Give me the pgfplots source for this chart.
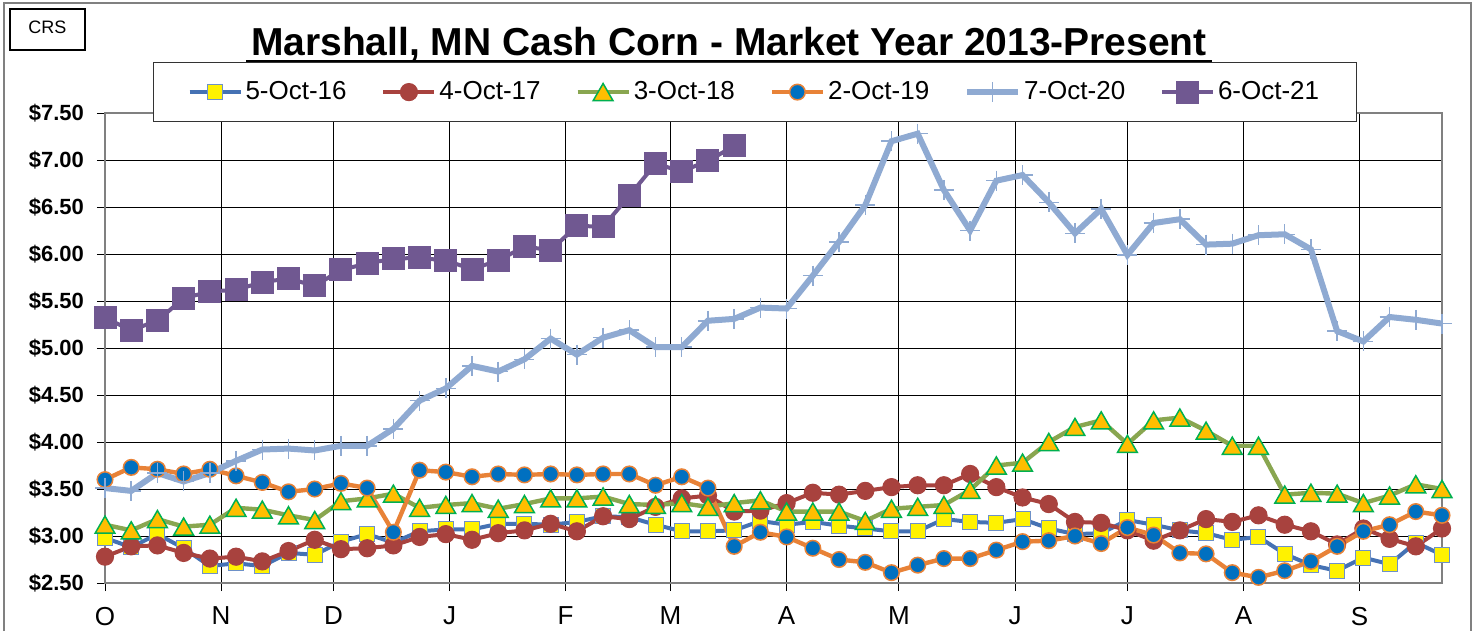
\documentclass[border=0pt]{standalone}
\usepackage{pgfplots}
\pgfplotsset{compat=1.18}
\usepackage{pgfplotstable}
\usepackage{fontspec}
\setmainfont{Liberation Sans}
\definecolor{c16}{RGB}{69,114,180}
\definecolor{c16m}{RGB}{110,145,200}
\definecolor{c17}{RGB}{168,66,62}
\definecolor{c18}{RGB}{137,166,80}
\definecolor{tri}{RGB}{255,190,0}
\definecolor{trig}{RGB}{0,176,80}
\definecolor{c19}{RGB}{232,130,55}
\definecolor{cblue}{RGB}{0,112,192}
\definecolor{c20}{RGB}{143,170,210}
\definecolor{c21}{RGB}{112,88,145}

\pgfplotstableread{
i s16 s17 s18 s19 s20
0 2.98 2.78 3.12 3.60 3.51
1 2.88 2.89 3.06 3.73 3.48
2 3.02 2.90 3.18 3.71 3.67
3 2.87 2.82 3.10 3.66 3.58
4 2.68 2.76 3.12 3.71 3.67
5 2.71 2.78 3.30 3.64 3.80
6 2.68 2.73 3.28 3.57 3.92
7 2.82 2.84 3.22 3.47 3.93
8 2.80 2.96 3.17 3.50 3.91
9 2.94 2.86 3.37 3.56 3.96
10 3.02 2.87 3.40 3.51 3.96
11 2.93 2.90 3.45 3.04 4.14
12 3.05 2.99 3.30 3.70 4.44
13 3.07 3.02 3.33 3.68 4.57
14 3.07 2.96 3.35 3.63 4.81
15 3.13 3.03 3.29 3.66 4.75
16 3.13 3.06 3.34 3.65 4.88
17 3.12 3.13 3.40 3.66 5.10
18 3.15 3.05 3.40 3.65 4.93
19 3.21 3.21 3.42 3.66 5.11
20 3.20 3.18 3.34 3.66 5.19
21 3.12 3.31 3.33 3.54 5.01
22 3.05 3.40 3.35 3.63 5.01
23 3.05 3.43 3.31 3.51 5.29
24 3.06 3.26 3.35 2.89 5.31
25 3.16 3.27 3.38 3.04 5.43
26 3.12 3.35 3.26 2.99 5.42
27 3.15 3.46 3.26 2.87 5.77
28 3.11 3.44 3.26 2.75 6.13
29 3.08 3.48 3.16 2.72 6.52
30 3.05 3.52 3.29 2.61 7.20
31 3.05 3.54 3.31 2.69 7.28
32 3.18 3.54 3.33 2.76 6.68
33 3.15 3.66 3.49 2.76 6.25
34 3.14 3.52 3.75 2.85 6.78
35 3.18 3.41 3.78 2.94 6.84
36 3.08 3.34 4.00 2.95 6.55
37 3.02 3.15 4.16 3.00 6.22
38 3.03 3.14 4.23 2.92 6.48
39 3.17 3.06 3.98 3.09 5.99
40 3.12 2.95 4.23 3.01 6.33
41 3.06 3.06 4.26 2.82 6.37
42 3.03 3.18 4.12 2.81 6.10
43 2.96 3.15 3.96 2.61 6.11
44 2.99 3.22 3.96 2.56 6.20
45 2.81 3.12 3.44 2.63 6.21
46 2.69 3.05 3.46 2.73 6.05
47 2.63 2.91 3.45 2.89 5.18
48 2.77 3.08 3.35 3.05 5.07
49 2.70 2.97 3.43 3.12 5.33
50 2.93 2.89 3.55 3.26 5.30
51 2.80 3.08 3.50 3.22 5.26
}\maintable

\pgfplotstableread{
i s21
0 5.32
1 5.19
2 5.29
3 5.53
4 5.60
5 5.62
6 5.70
7 5.74
8 5.66
9 5.83
10 5.90
11 5.95
12 5.96
13 5.93
14 5.84
15 5.93
16 6.08
17 6.04
18 6.30
19 6.29
20 6.62
21 6.96
22 6.88
23 6.99
24 7.15
}\purpletable

\begin{document}
\begin{tikzpicture}
\begin{scope}[x=0.5pt,y=-0.5pt]
\path[use as bounding box] (0,0) rectangle (1478,631);
\draw[gray, line width=0.75pt] (4,631) -- (4,3) -- (1471,3) -- (1471,631);
\draw[black, line width=0.75pt] (10,9) rectangle (85,50);
\node[font=\fontsize{9}{10}\selectfont, inner sep=0pt] at (47.5,27) {CRS};
\node[font=\fontsize{19.5}{22}\selectfont\bfseries, anchor=base, inner sep=0pt] at (729,55) {Marshall, MN Cash Corn - Market Year 2013-Present};
\draw[line width=1.2pt] (246,61) -- (1212,61);
\end{scope}
\begin{axis}[
  at={(52.5pt,-291.5pt)}, anchor=south west,
  scale only axis, width=668.5pt, height=235pt,
  xmin=0, xmax=51, ymin=2.5, ymax=7.5,
  clip=false,
  axis line style={draw=gray, line width=1pt},
  xtick={0,4.4286,8.7143,13.1429,17.5714,21.5714,26,30.2857,34.7143,39,43.4286,47.8571},
  xticklabels={O,N,D,J,F,M,A,M,J,J,A,S},
  ytick={2.5,3,3.5,4,4.5,5,5.5,6,6.5,7,7.5},
  yticklabels={\$2.50,\$3.00,\$3.50,\$4.00,\$4.50,\$5.00,\$5.50,\$6.00,\$6.50,\$7.00,\$7.50},
  xtick pos=left, ytick pos=left,
  tick align=outside, major tick length=4pt,
  tick style={black, line width=0.5pt},
  grid=major, major grid style={black, line width=0.5pt},
  xticklabel style={font=\fontsize{13}{15}\selectfont, yshift=-4.5pt},
  yticklabel style={font=\fontsize{11}{13}\selectfont\bfseries, xshift=-3pt},
  legend columns=6,
  legend style={at={(0.0359,1.1085)}, anchor=north west, draw=black!80, line width=0.5pt,
    fill=white, inner xsep=17pt, inner ysep=7.5pt,
    font=\fontsize{13}{15}\selectfont,
    nodes={inner xsep=1.5pt, inner ysep=2pt},
    /tikz/every even column/.append style={column sep=15.9pt}},
  legend image code/.code={\draw[mark repeat=2,mark phase=2,#1] plot coordinates {(0pt,0pt) (12.75pt,0pt) (25.5pt,0pt)};},
]
\addplot[color=c16, line width=2pt, mark=square*, mark size=3.75pt,
  mark options={fill=yellow, draw=c16m, line width=0.5pt}] table[x=i,y=s16] {\maintable};
\addlegendentry{5-Oct-16}
\addplot[color=c17, line width=2pt, mark=*, mark size=4.3pt,
  mark options={fill=c17, draw=c17, line width=0.5pt}] table[x=i,y=s17] {\maintable};
\addlegendentry{4-Oct-17}
\addplot[color=c18, line width=2.2pt, mark=triangle*, mark size=5.7pt,
  mark options={fill=tri, draw=trig, line width=0.75pt, yshift=-1.4pt}] table[x=i,y=s18] {\maintable};
\addlegendentry{3-Oct-18}
\addplot[color=c19, line width=2.2pt, mark=*, mark size=3.9pt,
  mark options={fill=cblue, draw=c19, line width=0.75pt}] table[x=i,y=s19] {\maintable};
\addlegendentry{2-Oct-19}
\addplot[color=c20, line width=3pt, mark=+, mark size=5pt,
  mark options={draw=c20, line width=0.75pt}] table[x=i,y=s20] {\maintable};
\addlegendentry{7-Oct-20}
\addplot[color=c21, line width=2pt, mark=square*, mark size=5.5pt,
  mark options={fill=c21, draw=c21, line width=0.5pt}] table[x=i,y=s21] {\purpletable};
\addlegendentry{6-Oct-21}
\end{axis}
\end{tikzpicture}
\end{document}
